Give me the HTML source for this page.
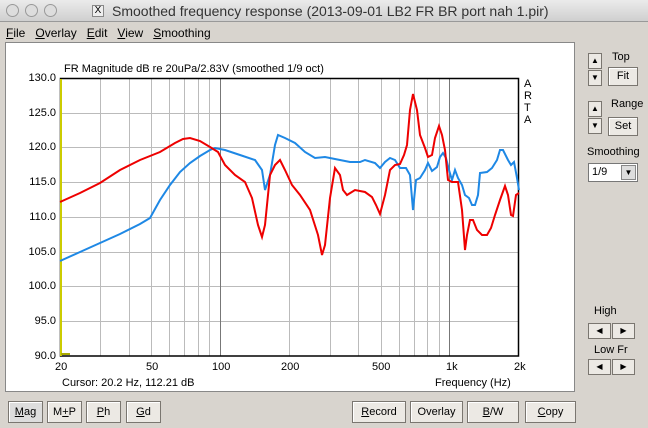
<!DOCTYPE html>
<html><head><meta charset="utf-8"><style>
*{margin:0;padding:0;box-sizing:border-box}
body{width:648px;height:428px;background:#d8d4ce;font-family:"Liberation Sans",sans-serif;font-size:11px;position:relative;overflow:hidden;color:#000}
.a{position:absolute}
.btn{position:absolute;background:#ece9e4;border:1px solid #7a7670;box-shadow:inset 1px 1px 0 #fff;text-align:center;font-size:11px;line-height:20px}
.sb{position:absolute;width:14px;height:16px;background:#ece9e4;border:1px solid #7a7670;font-size:8px;text-align:center;line-height:14px}
</style></head><body>
<div class="a" style="left:0;top:0;width:648px;height:22px;background:linear-gradient(#ebebeb,#cfcfcf);border-bottom:1px solid #999"></div>
<div class="a" style="left:6px;top:4px;width:13px;height:13px;border-radius:50%;border:1px solid #999;background:#ddd"></div>
<div class="a" style="left:25px;top:4px;width:13px;height:13px;border-radius:50%;border:1px solid #999;background:#ddd"></div>
<div class="a" style="left:44px;top:4px;width:13px;height:13px;border-radius:50%;border:1px solid #999;background:#ddd"></div>
<div class="a" style="left:92px;top:5px;width:12px;height:12px;border:1px solid #888;background:#eee;font-size:10px;line-height:10px;text-align:center">X</div>
<div class="a" style="left:112px;top:3px;font-size:14px;color:#333">Smoothed frequency response (2013-09-01 LB2 FR BR port nah 1.pir)</div>
<div class="a" style="left:6px;top:26px;font-size:12px"><u>F</u>ile&nbsp;&nbsp; <u>O</u>verlay&nbsp;&nbsp; <u>E</u>dit&nbsp;&nbsp; <u>V</u>iew&nbsp;&nbsp; <u>S</u>moothing</div>
<div class="a" style="left:5px;top:42px;width:570px;height:350px;background:#fff;border:1px solid #888"></div>
<svg class="a" style="left:0;top:0" width="648" height="428">
<g stroke="#bbb" stroke-width="1">
<line x1="60" y1="113.5" x2="519" y2="113.5"/><line x1="60" y1="147.5" x2="519" y2="147.5"/><line x1="60" y1="182.5" x2="519" y2="182.5"/><line x1="60" y1="217.5" x2="519" y2="217.5"/><line x1="60" y1="252.5" x2="519" y2="252.5"/><line x1="60" y1="286.5" x2="519" y2="286.5"/><line x1="60" y1="321.5" x2="519" y2="321.5"/>
<line x1="100.5" y1="78" x2="100.5" y2="356"/><line x1="129.5" y1="78" x2="129.5" y2="356"/><line x1="151.5" y1="78" x2="151.5" y2="356"/><line x1="169.5" y1="78" x2="169.5" y2="356"/><line x1="184.5" y1="78" x2="184.5" y2="356"/><line x1="198.5" y1="78" x2="198.5" y2="356"/><line x1="209.5" y1="78" x2="209.5" y2="356"/>
<line x1="289.5" y1="78" x2="289.5" y2="356"/><line x1="330.5" y1="78" x2="330.5" y2="356"/><line x1="358.5" y1="78" x2="358.5" y2="356"/><line x1="381.5" y1="78" x2="381.5" y2="356"/><line x1="399.5" y1="78" x2="399.5" y2="356"/><line x1="414.5" y1="78" x2="414.5" y2="356"/><line x1="427.5" y1="78" x2="427.5" y2="356"/><line x1="439.5" y1="78" x2="439.5" y2="356"/>
</g>
<g stroke="#777"><line x1="220.5" y1="78" x2="220.5" y2="356"/><line x1="449.5" y1="78" x2="449.5" y2="356"/></g>
<rect x="60.5" y="78.5" width="458" height="277.5" fill="none" stroke="#000" stroke-width="1.5"/>
<line x1="61" y1="79" x2="61" y2="356" stroke="#cc0" stroke-width="2"/>
<line x1="61" y1="354" x2="70" y2="354" stroke="#aa0" stroke-width="2"/>
<polyline fill="none" stroke="#1e88e5" stroke-width="2" points="60,261 80,252 100,243 120,234 140,224 150,218 160,200 170,185 180,172 190,163 200,156 210,150 215,148 225,150 240,155 255,160 262,170 265,190 270,175 275,145 278,135 285,138 295,143 305,152 315,158 325,157 340,160 350,162 360,162 365,160 375,163 380,168 385,162 390,158 395,160 400,168 406,168 410,175 413,210 416,180 420,178 425,170 428,163 432,171 437,167 440,157 443,153 446,158 449,170 452,180 455,170 458,178 462,185 465,195 469,198 472,205 475,205 478,195 480,173 487,172 492,168 497,160 500,150 503,150 508,160 511,165 514,162 517,178 519,190"/>
<polyline fill="none" stroke="#e00" stroke-width="2" points="60,202 80,193 100,183 120,170 140,160 160,152 175,143 183,139 190,138 200,141 210,147 218,152 225,165 235,175 245,182 252,198 258,225 262,237 265,225 270,175 275,165 280,160 285,170 292,185 300,195 310,210 318,235 322,255 325,245 330,198 335,168 340,175 343,190 347,195 355,190 365,192 372,197 376,205 380,214 385,195 390,170 395,165 400,164 404,155 407,145 410,110 413,94 417,110 420,135 425,148 428,157 432,155 435,138 439,126 442,135 445,150 448,180 452,182 458,182 462,210 465,250 467,235 470,220 473,220 477,230 482,235 487,235 491,228 495,215 500,200 505,186 508,195 511,215 513,216 516,195 519,193"/>
</svg>
<div class="a" style="left:64px;top:63px">FR Magnitude dB re 20uPa/2.83V (smoothed 1/9 oct)</div>
<div class="a" style="left:524px;top:78px;line-height:12px">A<br>R<br>T<br>A</div>
<div class="a" style="left:20px;top:61px;line-height:34.7px;text-align:right;width:36px">130.0<br>125.0<br>120.0<br>115.0<br>110.0<br>105.0<br>100.0<br>95.0<br>90.0</div>
<div class="a" style="left:55px;top:361px">20</div><div class="a" style="left:146px;top:361px">50</div><div class="a" style="left:212px;top:361px">100</div><div class="a" style="left:281px;top:361px">200</div><div class="a" style="left:372px;top:361px">500</div><div class="a" style="left:446px;top:361px">1k</div><div class="a" style="left:514px;top:361px">2k</div>
<div class="a" style="left:62px;top:377px">Cursor: 20.2 Hz, 112.21 dB</div>
<div class="a" style="left:435px;top:377px">Frequency (Hz)</div>
<div class="btn" style="left:8px;top:401px;width:35px;height:22px;background:#ddd"><u>M</u>ag</div>
<div class="btn" style="left:47px;top:401px;width:35px;height:22px">M<u>+</u>P</div>
<div class="btn" style="left:86px;top:401px;width:35px;height:22px"><u>P</u>h</div>
<div class="btn" style="left:126px;top:401px;width:35px;height:22px"><u>G</u>d</div>
<div class="btn" style="left:352px;top:401px;width:54px;height:22px"><u>R</u>ecord</div>
<div class="btn" style="left:410px;top:401px;width:53px;height:22px">Overlay</div>
<div class="btn" style="left:467px;top:401px;width:52px;height:22px"><u>B</u>/W</div>
<div class="btn" style="left:525px;top:401px;width:51px;height:22px"><u>C</u>opy</div>
<div class="sb" style="left:588px;top:53px">▲</div><div class="sb" style="left:588px;top:70px">▼</div>
<div class="a" style="left:612px;top:51px">Top</div>
<div class="btn" style="left:608px;top:67px;width:30px;height:19px;line-height:17px">Fit</div>
<div class="sb" style="left:588px;top:101px">▲</div><div class="sb" style="left:588px;top:118px">▼</div>
<div class="a" style="left:611px;top:98px">Range</div>
<div class="btn" style="left:608px;top:117px;width:30px;height:19px;line-height:17px">Set</div>
<div class="a" style="left:587px;top:146px">Smoothing</div>
<div class="a" style="left:588px;top:163px;width:50px;height:19px;background:#fff;border:1px solid #777;padding-left:3px;line-height:17px">1/9<span style="position:absolute;right:1px;top:1px;width:15px;height:15px;background:#ddd;border:1px solid #888;font-size:8px;text-align:center;line-height:13px">▼</span></div>
<div class="a" style="left:594px;top:305px">High</div>
<div class="sb" style="left:588px;top:323px;width:23px">◀</div><div class="sb" style="left:612px;top:323px;width:23px">▶</div>
<div class="a" style="left:594px;top:344px">Low Fr</div>
<div class="sb" style="left:588px;top:359px;width:23px">◀</div><div class="sb" style="left:612px;top:359px;width:23px">▶</div>
</body></html>
